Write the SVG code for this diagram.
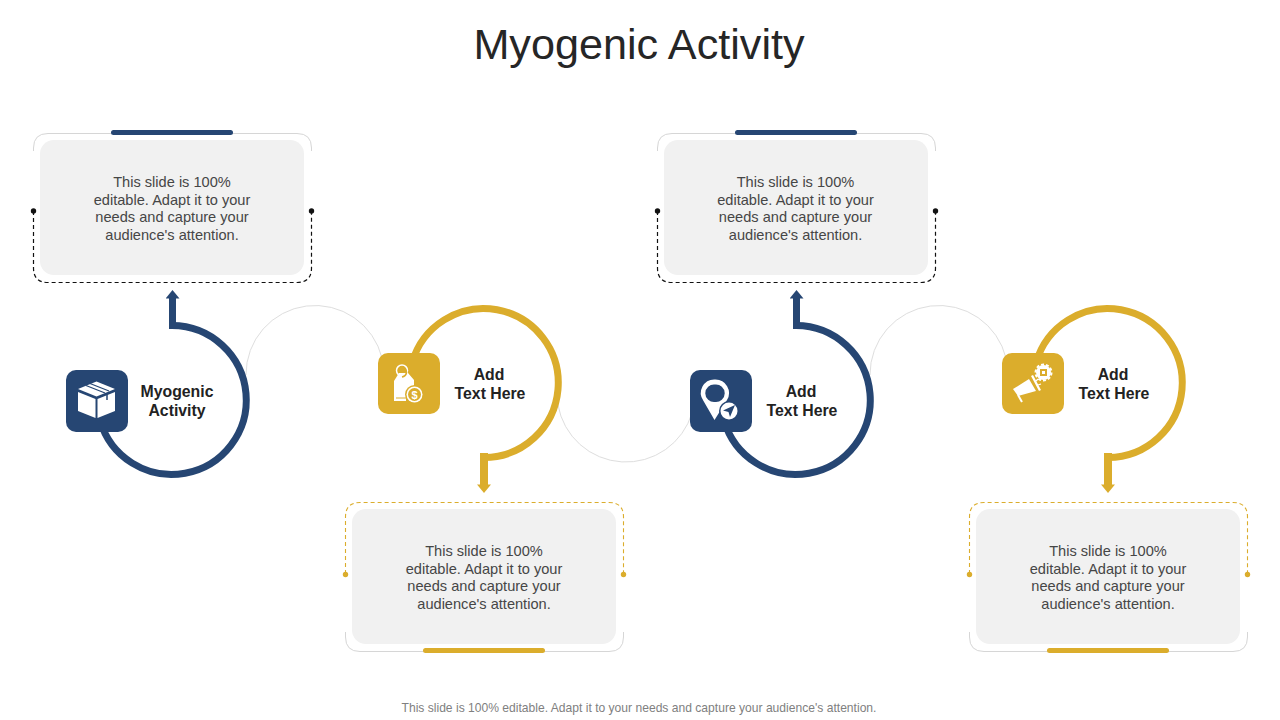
<svg xmlns="http://www.w3.org/2000/svg" width="1280" height="720" viewBox="0 0 1280 720">
<style>
text{font-family:"Liberation Sans",Arial,sans-serif;text-anchor:middle}
.title{font-size:43.2px;fill:#262626}
.body{font-size:14.6px;fill:#464646}
.label{font-size:15.8px;font-weight:700;fill:#222}
.foot{font-size:12.1px;fill:#808080}
.card{fill:#f1f1f1}
.frame{fill:none;stroke:#d6d6d6;stroke-width:1}
.dashb{fill:none;stroke:#111;stroke-width:1.2;stroke-dasharray:4 3}
.dashg{fill:none;stroke:#dbad2c;stroke-width:1.1;stroke-dasharray:4 3}
.link{fill:none;stroke:#dedede;stroke-width:1}
.rb{fill:none;stroke:#264673;stroke-width:7}
.rg{fill:none;stroke:#dbad2c;stroke-width:7}
.sb{fill:none;stroke:#264673;stroke-width:7}
.sg{fill:none;stroke:#dbad2c;stroke-width:8}
.ib{fill:#264673}
.ig{fill:#dbad2c}
.w{fill:#fff}
</style>
<defs>
<marker id="ab" markerUnits="userSpaceOnUse" markerWidth="14" markerHeight="9" refX="7" refY="8" orient="0" viewBox="0 0 14 9"><path d="M0 8.500 7 0 14 8.500Z" fill="#264673"/></marker>
<marker id="ag" markerUnits="userSpaceOnUse" markerWidth="14" markerHeight="9" refX="7" refY="1" orient="0" viewBox="0 0 14 9"><path d="M0 .5H14L7 9Z" fill="#dbad2c"/></marker>
<g id="cardTop">
<rect class="card" x="40" y="140" width="264" height="135" rx="14"/>
<path class="frame" d="M33.500 151V148Q33.500 133.500 48 133.500H297Q311.500 133.500 311.500 148V151"/>
<path class="dashb" d="M33.500 211V268Q33.500 282.500 48 282.500H297Q311.500 282.500 311.500 268V211"/>
<rect x="111" y="130" width="122" height="5" rx="2.500" fill="#264673"/>
<circle cx="33.500" cy="211" r="2.700" fill="#111"/>
<circle cx="311.500" cy="211" r="2.700" fill="#111"/>
</g>
<g id="cardBottom">
<rect class="card" x="352" y="509" width="264" height="135" rx="14"/>
<path class="dashg" d="M345.500 574V517Q345.500 502.500 360 502.500H609Q623.500 502.500 623.500 517V574"/>
<path class="frame" d="M345.500 632V637Q345.500 651.500 360 651.500H609Q623.500 651.500 623.500 637V632"/>
<rect x="423" y="648" width="122" height="5" rx="2.500" fill="#dbad2c"/>
<circle cx="345.500" cy="574.500" r="2.700" fill="#dbad2c"/>
<circle cx="623.500" cy="574.500" r="2.700" fill="#dbad2c"/>
</g>
</defs>

<text class="title" x="639" y="59">Myogenic Activity</text>

<g id="connectors">
<path class="link" d="M246 375A69 69 0 0 1 382 358"/>
<path class="link" d="M558 405A69 69 0 0 0 692 413"/>
<path class="link" d="M870 375A69 69 0 0 1 1006 358"/>
<path class="rb" d="M172 325.500A74.500 74.500 0 1 1 100 420"/>
<path class="sb" d="M172.500 329V298" marker-end="url(#ab)"/>
<path class="rg" d="M484 457.500A74.500 74.500 0 1 0 412 363"/>
<path class="sg" d="M484 453V485" marker-end="url(#ag)"/>
<path class="rb" d="M796 325.500A74.500 74.500 0 1 1 724 420"/>
<path class="sb" d="M796.500 329V298" marker-end="url(#ab)"/>
<path class="rg" d="M1108 457.500A74.500 74.500 0 1 0 1036 363"/>
<path class="sg" d="M1108 453V485" marker-end="url(#ag)"/>
</g>

<g id="card-1">
<use href="#cardTop"/>
<text class="body" x="172" y="187">This slide is 100%</text>
<text class="body" x="172" y="205">editable. Adapt it to your</text>
<text class="body" x="172" y="222">needs and capture your</text>
<text class="body" x="172" y="240">audience's attention.</text>
</g>
<g id="card-2">
<use href="#cardBottom"/>
<text class="body" x="484" y="556">This slide is 100%</text>
<text class="body" x="484" y="574">editable. Adapt it to your</text>
<text class="body" x="484" y="591">needs and capture your</text>
<text class="body" x="484" y="609">audience's attention.</text>
</g>
<g id="card-3">
<use href="#cardTop" x="624"/>
<text class="body" x="795.500" y="187">This slide is 100%</text>
<text class="body" x="795.500" y="205">editable. Adapt it to your</text>
<text class="body" x="795.500" y="222">needs and capture your</text>
<text class="body" x="795.500" y="240">audience's attention.</text>
</g>
<g id="card-4">
<use href="#cardBottom" x="624"/>
<text class="body" x="1108" y="556">This slide is 100%</text>
<text class="body" x="1108" y="574">editable. Adapt it to your</text>
<text class="body" x="1108" y="591">needs and capture your</text>
<text class="body" x="1108" y="609">audience's attention.</text>
</g>

<g id="node-1">
<rect class="ib" x="66" y="370" width="62" height="62" rx="10"/>
<path class="w" d="M96.500 381.500 115 389 96.500 396.500 78 389Z"/>
<path class="w" d="M78 392 95.500 399V418L78 411Z"/>
<path class="w" d="M97.500 399 115 392V411L97.500 418Z"/>
<path d="M86 385.500 105 393M90 383.500 109 391" fill="none" stroke="#264673" stroke-width="1.200"/>
<path d="M107 394.500V400" stroke="#264673" stroke-width="1.500"/>
<text class="label" x="177" y="397">Myogenic</text>
<text class="label" x="177" y="416">Activity</text>
</g>

<g id="node-2">
<rect class="ig" x="378" y="353" width="62" height="61" rx="10"/>
<path class="w" d="M394 381 399 373H408L414 380V392H406V401H394Z"/>
<circle cx="402" cy="370.500" r="5.500" fill="none" stroke="#fff" stroke-width="1.500"/>
<path d="M402 377C407 376 408 371 404 368" fill="none" stroke="#dbad2c" stroke-width="1.500"/>
<path d="M396 398H406" stroke="#dbad2c" stroke-width="1"/>
<circle cx="414.500" cy="394.500" r="9.500" class="ig"/>
<circle cx="414.500" cy="394.500" r="8" class="w"/>
<circle cx="414.500" cy="394.500" r="6.500" class="ig"/>
<text x="414.500" y="398.500" style="font-size:11px;font-weight:700;fill:#fff">$</text>
<text class="label" x="489" y="380">Add</text>
<text class="label" x="490" y="399">Text Here</text>
</g>

<g id="node-3">
<rect class="ib" x="690" y="370" width="62" height="62" rx="10"/>
<path class="w" fill-rule="evenodd" d="M715 379.500A13.500 13.500 0 0 1 727 400L714.500 420 703.500 401A13.500 13.500 0 0 1 715 379.500ZM715 384.500A8.800 8.800 0 1 0 715 402 8.800 8.800 0 1 0 715 384.500Z"/>
<circle cx="729" cy="411" r="10" class="ib"/>
<circle cx="729" cy="411" r="8.500" class="w"/>
<path class="ib" d="M735 405 723 410.500 728.500 412 730 417Z"/>
<text class="label" x="801" y="397">Add</text>
<text class="label" x="802" y="416">Text Here</text>
</g>

<g id="node-4">
<rect class="ig" x="1002" y="353" width="62" height="61" rx="10"/>
<path class="w" d="M1013 389 1029 379 1036 391 1018 396Z"/>
<path class="w" d="M1031 376 1033 375 1041 390 1039 391Z"/>
<path d="M1018 395 1022 402" stroke="#fff" stroke-width="2" fill="none"/>
<circle cx="1043.500" cy="372.500" r="7.500" class="w"/>
<circle cx="1043.500" cy="372.500" r="8" fill="none" stroke="#fff" stroke-width="2" stroke-dasharray="3 2"/>
<path class="ig" d="M1040 369h7v7h-7zM1042 371v3h3v-3z" fill-rule="evenodd"/>
<path d="M1036 381l2-2M1038 385l3-1" stroke="#fff" stroke-width="1.200"/>
<text class="label" x="1113" y="380">Add</text>
<text class="label" x="1114" y="399">Text Here</text>
</g>

<text class="foot" x="639" y="712">This slide is 100% editable. Adapt it to your needs and capture your audience's attention.</text>
</svg>
